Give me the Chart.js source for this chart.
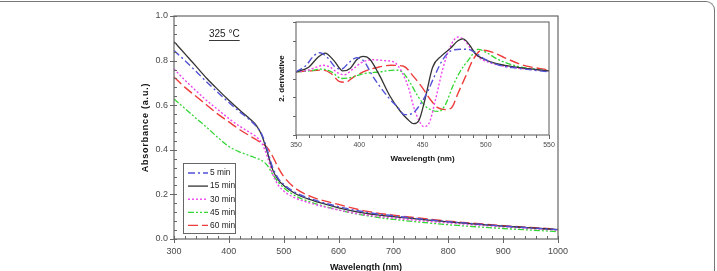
<!DOCTYPE html>
<html>
<head>
<meta charset="utf-8">
<script src="https://cdn.jsdelivr.net/npm/chart.js@4/dist/chart.umd.min.js"></script>
<style>
  html, body { margin: 0; padding: 0; background: #fff; }
  #wrap { position: relative; width: 717px; height: 271px; overflow: hidden; }
  #frame { position: absolute; left: -20px; top: 1px; width: 735px; height: 320px;
           border-top: 1.5px solid #777; border-right: 1.5px solid #777; border-top-right-radius: 9px; box-sizing: border-box; }
  #main { position: absolute; left: 0; top: 0; }
  #inset { position: absolute; left: 250px; top: 16px; }
</style>
</head>
<body>
<div id="wrap">
  <div id="frame"></div>
  <canvas id="main" width="717" height="271"></canvas>
  <canvas id="inset" width="306" height="160"></canvas>
</div>
<script>
// ---------------- DATA ----------------
const seriesLabels = ['5 min', '15 min', '30 min', '45 min', '60 min'];

// Main chart: wavelength (nm) grid
const mainWavelengths = [300, 320, 340, 360, 380, 400, 420, 440, 450, 460, 470, 480, 490, 500, 520, 550, 600, 650, 700, 750, 800, 850, 900, 950, 1000];
const abs5min  = [0.845, 0.800, 0.752, 0.703, 0.657, 0.612, 0.570, 0.530, 0.505, 0.470, 0.400, 0.320, 0.272, 0.245, 0.210, 0.180, 0.145, 0.120, 0.104, 0.090, 0.078, 0.068, 0.058, 0.050, 0.042];
const abs15min = [0.885, 0.830, 0.775, 0.720, 0.670, 0.622, 0.577, 0.535, 0.510, 0.465, 0.390, 0.310, 0.265, 0.240, 0.205, 0.175, 0.140, 0.115, 0.100, 0.088, 0.077, 0.067, 0.058, 0.050, 0.042];
const abs30min = [0.762, 0.712, 0.665, 0.620, 0.580, 0.540, 0.505, 0.475, 0.458, 0.430, 0.370, 0.290, 0.242, 0.215, 0.185, 0.160, 0.130, 0.108, 0.094, 0.082, 0.072, 0.063, 0.055, 0.047, 0.040];
const abs45min = [0.628, 0.585, 0.542, 0.500, 0.455, 0.415, 0.390, 0.372, 0.362, 0.352, 0.330, 0.290, 0.255, 0.230, 0.195, 0.165, 0.130, 0.105, 0.088, 0.075, 0.064, 0.055, 0.047, 0.040, 0.033];
const abs60min = [0.726, 0.680, 0.640, 0.600, 0.560, 0.525, 0.490, 0.460, 0.445, 0.430, 0.410, 0.370, 0.320, 0.280, 0.230, 0.190, 0.155, 0.125, 0.107, 0.093, 0.080, 0.070, 0.060, 0.052, 0.044];

// Inset: second derivative (arbitrary units)
const d2_5min_x  = [350, 358, 364, 369, 375, 381, 386, 392, 398, 404, 410, 416, 423, 430, 436, 442, 448, 454, 460, 466, 472, 480, 486, 492, 500, 511, 525, 550];
const d2_5min_y  = [3.35, 3.7, 4.2, 4.37, 4.1, 3.6, 3.5, 3.85, 4.1, 3.9, 3.2, 2.6, 2.0, 1.5, 1.08, 1.15, 1.6, 2.3, 3.2, 4.0, 4.45, 4.55, 4.55, 4.35, 4.0, 3.7, 3.55, 3.35];
const d2_15min_x = [350, 360, 367, 373, 380, 387, 393, 398, 403, 408, 415, 424, 432, 438, 443, 447, 452, 458, 465, 472, 478, 482, 487, 492, 498, 505, 515, 530, 550];
const d2_15min_y = [3.35, 3.6, 4.1, 4.35, 3.95, 3.4, 3.55, 4.0, 4.17, 4.05, 3.3, 2.1, 1.3, 0.85, 0.6, 0.75, 1.9, 3.6, 4.2, 4.6, 5.0, 5.1, 4.8, 4.3, 4.05, 3.85, 3.7, 3.55, 3.4];
const d2_30min_x = [350, 360, 366, 371, 377, 383, 388, 395, 402, 410, 420, 428, 434, 439, 443, 447, 451, 455, 460, 466, 472, 478, 483, 488, 495, 505, 520, 550];
const d2_30min_y = [3.35, 3.45, 3.6, 3.7, 3.6, 3.3, 3.2, 3.5, 3.85, 4.0, 3.95, 3.85, 3.3, 2.5, 1.5, 0.8, 0.45, 0.6, 1.8, 3.5, 4.7, 5.2, 5.05, 4.6, 4.1, 3.8, 3.6, 3.4];
const d2_45min_x = [350, 360, 371, 378, 386, 393, 403, 416, 428, 434, 440, 446, 452, 458, 463, 468, 474, 480, 486, 494, 500, 510, 525, 550];
const d2_45min_y = [3.35, 3.4, 3.5, 3.35, 3.0, 3.05, 3.25, 3.35, 3.45, 3.35, 2.8, 2.1, 1.55, 1.3, 1.25, 1.6, 2.6, 3.4, 3.95, 4.55, 4.4, 4.0, 3.65, 3.4];
const d2_60min_x = [350, 360, 371, 378, 384, 389, 396, 405, 415, 425, 435, 443, 450, 456, 462, 468, 473, 478, 484, 490, 497, 505, 515, 530, 550];
const d2_60min_y = [3.35, 3.4, 3.45, 3.25, 2.85, 2.8, 3.1, 3.4, 3.6, 3.7, 3.65, 3.1, 2.5, 1.9, 1.45, 1.35, 1.45, 2.2, 3.1, 4.0, 4.5, 4.4, 4.1, 3.7, 3.45];

const mainXTicks = [300, 400, 500, 600, 700, 800, 900, 1000];
const mainYTicks = [0.0, 0.2, 0.4, 0.6, 0.8, 1.0];
const insetXTicks = [350, 400, 450, 500, 550];

// ---------------- STYLES ----------------
const styles = [
  { color: '#5252d6', dash: [7, 3, 2, 3], width: 1.4 },
  { color: '#333333', dash: [],           width: 1.3 },
  { color: '#ee44ee', dash: [2, 2],       width: 1.4 },
  { color: '#33d633', dash: [6, 2, 2, 2, 2, 2], width: 1.3 },
  { color: '#ee3b3b', dash: [10, 4],      width: 1.4 }
];

const pairs = (xs, ys) => xs.map((x, i) => ({ x: x, y: ys[i] }));
const mainSeries = [abs5min, abs15min, abs30min, abs45min, abs60min];
const insetSeries = [
  pairs(d2_5min_x, d2_5min_y), pairs(d2_15min_x, d2_15min_y), pairs(d2_30min_x, d2_30min_y),
  pairs(d2_45min_x, d2_45min_y), pairs(d2_60min_x, d2_60min_y)
];

function makeDatasets(dataArr) {
  return dataArr.map((d, i) => ({
    label: seriesLabels[i],
    data: d,
    borderColor: styles[i].color,
    borderDash: styles[i].dash,
    borderWidth: styles[i].width,
    pointRadius: 0,
    fill: false,
    tension: 0.4,
    cubicInterpolationMode: 'monotone'
  }));
}

const FONT = '"Liberation Sans", Arial, sans-serif';
const AXIS = '#666';
const TXT = '#4a4a4a';

// ------- Main chart plugin: frame, ticks, labels, legend, titles -------
const mainDecor = {
  id: 'mainDecor',
  afterDraw(chart) {
    const { ctx, chartArea: a, scales } = chart;
    const xs = scales.x, ys = scales.y;
    ctx.save();
    // frame
    ctx.strokeStyle = AXIS; ctx.lineWidth = 1.2; ctx.setLineDash([]);
    ctx.strokeRect(a.left, a.top, a.right - a.left, a.bottom - a.top);
    // y ticks
    ctx.lineWidth = 1;
    for (let v = 0; v <= 1.0001; v += 0.04) {
      const y = Math.round(ys.getPixelForValue(v)) + 0.5;
      const major = Math.abs(v / 0.2 - Math.round(v / 0.2)) < 1e-6;
      ctx.beginPath();
      ctx.moveTo(a.left - (major ? 4 : 0), y);
      ctx.lineTo(a.left + 3, y);
      ctx.stroke();
    }
    // x ticks
    for (let v = 300; v <= 1000; v += 20) {
      const x = Math.round(xs.getPixelForValue(v)) + 0.5;
      const major = v % 100 === 0;
      ctx.beginPath();
      ctx.moveTo(x, a.bottom + (major ? 4 : 0));
      ctx.lineTo(x, a.bottom - 3);
      ctx.stroke();
    }
    // tick labels
    ctx.fillStyle = TXT;
    ctx.font = '9px ' + FONT;
    ctx.textAlign = 'right'; ctx.textBaseline = 'middle';
    mainYTicks.forEach(v => ctx.fillText(v.toFixed(1), a.left - 6, ys.getPixelForValue(v)));
    ctx.textAlign = 'center';
    mainXTicks.forEach(v => ctx.fillText(String(v), xs.getPixelForValue(v), a.bottom + 13));
    // axis titles
    ctx.fillStyle = '#111';
    ctx.font = 'bold 9px ' + FONT;
    ctx.fillText('Wavelength (nm)', (a.left + a.right) / 2, a.bottom + 29);
    ctx.save();
    ctx.translate(a.left - 28, (a.top + a.bottom) / 2);
    ctx.rotate(-Math.PI / 2);
    if ('letterSpacing' in ctx) ctx.letterSpacing = '0.8px';
    ctx.fillText('Absorbance (a.u.)', 0, 0);
    ctx.restore();
    // temperature label
    ctx.font = '10px ' + FONT;
    ctx.fillStyle = '#222';
    ctx.textAlign = 'left';
    const t = '325 °C';
    ctx.fillText(t, 209, 34);
    const w = ctx.measureText(t).width;
    ctx.strokeStyle = '#222'; ctx.lineWidth = 0.9;
    ctx.beginPath(); ctx.moveTo(209, 40.5); ctx.lineTo(209 + w, 40.5); ctx.stroke();
    // legend
    const lx = 183, ly = 163, lw = 52, lh = 70;
    ctx.fillStyle = '#fff';
    ctx.fillRect(lx, ly, lw, lh);
    ctx.strokeStyle = AXIS; ctx.lineWidth = 1;
    ctx.strokeRect(lx + 0.5, ly + 0.5, lw, lh);
    chart.data.datasets.forEach((ds, i) => {
      const yy = 173 + i * 13.1;
      ctx.strokeStyle = ds.borderColor;
      ctx.lineWidth = ds.borderWidth;
      ctx.setLineDash(ds.borderDash);
      ctx.beginPath(); ctx.moveTo(188, yy); ctx.lineTo(208, yy); ctx.stroke();
      ctx.setLineDash([]);
      ctx.fillStyle = '#222';
      ctx.font = '8.4px ' + FONT;
      ctx.textAlign = 'left'; ctx.textBaseline = 'middle';
      ctx.fillText(ds.label, 210, yy);
    });
    ctx.restore();
  }
};

new Chart(document.getElementById('main'), {
  type: 'line',
  data: { labels: mainWavelengths, datasets: makeDatasets(mainSeries.map(s => pairs(mainWavelengths, s))) },
  options: {
    responsive: false, animation: false, devicePixelRatio: 1,
    layout: { padding: { top: 16, right: 159, left: 0, bottom: 0 } },
    plugins: { legend: { display: false }, tooltip: { enabled: false } },
    scales: {
      x: {
        type: 'linear', min: 300, max: 1000,
        grid: { display: false, drawTicks: false }, border: { display: false },
        ticks: { display: false },
        afterFit(s) { s.height = 32; }
      },
      y: {
        min: 0, max: 1,
        grid: { display: false, drawTicks: false }, border: { display: false },
        ticks: { display: false },
        afterFit(s) { s.width = 174; }
      }
    }
  },
  plugins: [mainDecor]
});

// ------- Inset chart -------
const insetDecor = {
  id: 'insetDecor',
  afterDraw(chart) {
    const { ctx, chartArea: a, scales } = chart;
    const xs = scales.x, ys = scales.y;
    ctx.save();
    ctx.strokeStyle = AXIS; ctx.lineWidth = 1.1;
    ctx.strokeRect(a.left, a.top, a.right - a.left, a.bottom - a.top);
    ctx.lineWidth = 1;
    for (let v = 350; v <= 550; v += 10) {
      const x = Math.round(xs.getPixelForValue(v)) + 0.5;
      ctx.beginPath(); ctx.moveTo(x, a.bottom); ctx.lineTo(x, a.bottom + (v % 50 === 0 ? 4 : 3)); ctx.stroke();
    }
    for (let v = 0; v <= 6; v += 1) {
      const y = Math.round(ys.getPixelForValue(v)) + 0.5;
      ctx.beginPath(); ctx.moveTo(a.left - 3, y); ctx.lineTo(a.left, y); ctx.stroke();
    }
    ctx.fillStyle = TXT;
    ctx.font = '7px ' + FONT;
    ctx.textAlign = 'center'; ctx.textBaseline = 'middle';
    insetXTicks.forEach(v => ctx.fillText(String(v), xs.getPixelForValue(v), a.bottom + 10));
    ctx.fillStyle = '#111';
    ctx.font = 'bold 8px ' + FONT;
    ctx.fillText('Wavelength (nm)', (a.left + a.right) / 2, a.bottom + 24);
    ctx.save();
    ctx.translate(a.left - 14, (a.top + a.bottom) / 2);
    ctx.rotate(-Math.PI / 2);
    ctx.fillText('2. derivative', 0, 0);
    ctx.restore();
    ctx.restore();
  }
};

new Chart(document.getElementById('inset'), {
  type: 'line',
  data: { datasets: makeDatasets(insetSeries) },
  options: {
    responsive: false, animation: false, devicePixelRatio: 1,
    layout: { padding: { top: 6, right: 7, left: 0, bottom: 0 } },
    plugins: { legend: { display: false }, tooltip: { enabled: false } },
    scales: {
      x: {
        type: 'linear', min: 350, max: 550,
        grid: { display: false, drawTicks: false }, border: { display: false },
        ticks: { display: false },
        afterFit(s) { s.height = 41; }
      },
      y: {
        min: 0, max: 6,
        grid: { display: false, drawTicks: false }, border: { display: false },
        ticks: { display: false },
        afterFit(s) { s.width = 46; }
      }
    }
  },
  plugins: [insetDecor]
});
</script>
</body>
</html>
